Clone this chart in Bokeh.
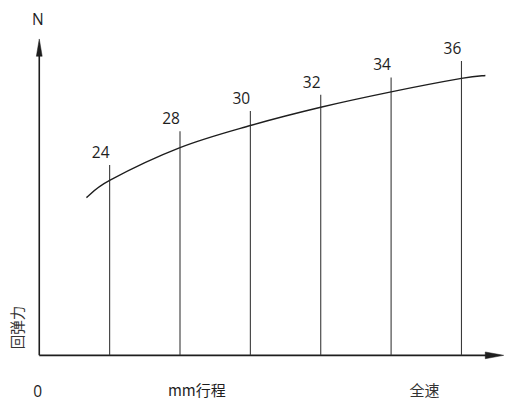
from bokeh.plotting import figure
from bokeh.models import Range1d
from bokeh.core.properties import value
from bokeh.embed import file_html
from bokeh.resources import INLINE

# ---- data ----
positions = [1, 2, 3, 4, 5, 6]                 # stroke stations along the travel axis
station_labels = ["24", "28", "30", "32", "34", "36"]
station_heights = [198, 233, 254, 271, 289, 306]   # height of each vertical marker

curve_x = [0.67, 1, 2, 3, 4, 5, 6, 6.34]        # spring-back force curve
curve_y = [164, 182, 216, 239, 258, 274, 288, 291]

y_axis_top = 312
x_axis_end = 6.60

# ---- layout ----
W, H = 504, 401
REF_W, REF_H = 520, 417
UX = 72.6                        # reference pixels per x unit
X_ORIGIN, Y_ORIGIN = 40, 369     # reference pixel position of the origin

p = figure(width=W, height=H, output_backend="svg", toolbar_location=None,
           x_range=Range1d(-X_ORIGIN / UX, (REF_W - X_ORIGIN) / UX),
           y_range=Range1d(Y_ORIGIN - REF_H, Y_ORIGIN),
           x_axis_location=None, y_axis_location=None, min_border=0,
           background_fill_color="white", border_fill_color="white")
p.outline_line_color = None
p.xgrid.visible = False
p.ygrid.visible = False

ink = "#1e1e1e"

# axes
p.line([0, 0], [0, y_axis_top], line_color=ink, line_width=1.6)
p.line([0, x_axis_end - 12 / UX], [0, 0], line_color=ink, line_width=1.6)
p.patch([-3 / UX, 0, 3 / UX], [y_axis_top - 1, y_axis_top + 17, y_axis_top - 1],
        fill_color=ink, line_color=ink, line_width=0.5)
p.patch([x_axis_end - 19 / UX, x_axis_end, x_axis_end - 19 / UX], [-3.5, 0, 3.5],
        fill_color=ink, line_color=ink, line_width=0.5)

# vertical station markers
p.segment(x0=positions, y0=[0] * len(positions), x1=positions, y1=station_heights,
          line_color="#3a3a3a", line_width=1.1)

# smooth curve through the read points (Catmull-Rom drawn as cubic Beziers)
n = len(curve_x)
bx0, by0, bx1, by1, cx0, cy0, cx1, cy1 = [], [], [], [], [], [], [], []
for i in range(n - 1):
    xa, ya = curve_x[i], curve_y[i]
    xb, yb = curve_x[i + 1], curve_y[i + 1]
    xp, yp = (curve_x[i - 1], curve_y[i - 1]) if i > 0 else (xa, ya)
    xn, yn = (curve_x[i + 2], curve_y[i + 2]) if i + 2 < n else (xb, yb)
    bx0.append(xa); by0.append(ya); bx1.append(xb); by1.append(yb)
    cx0.append(xa + (xb - xp) / 6); cy0.append(ya + (yb - yp) / 6)
    cx1.append(xb - (xn - xa) / 6); cy1.append(yb - (yn - ya) / 6)
p.bezier(x0=bx0, y0=by0, x1=bx1, y1=by1, cx0=cx0, cy0=cy0, cx1=cx1, cy1=cy1,
         line_color=ink, line_width=1.4)

fs = "15.5px"
# station labels
p.text(x=positions, y=station_heights, text=station_labels, x_offset=-9, y_offset=-13,
       text_align="center", text_baseline="alphabetic", text_font=value("Open Sans"),
       text_font_size=fs, text_color=ink)

# axis texts
p.text(x=[0], y=[349.5], text=["N"], x_offset=-1.5, text_align="center", text_baseline="middle",
       text_font=value("Open Sans"), text_font_size=fs, text_color=ink)
p.text(x=[0], y=[-37.5], text=["0"], x_offset=-1.5, text_align="center", text_baseline="alphabetic",
       text_font=value("Open Sans"), text_font_size=fs, text_color=ink)
p.text(x=[(202.5 - X_ORIGIN) / UX], y=[-35.5], text=["mm行程"], text_align="center",
       text_baseline="alphabetic", text_font=value("Noto Sans CJK SC"), text_font_size="15px",
       text_color=ink)
p.text(x=[(437.5 - X_ORIGIN) / UX], y=[-35.5], text=["全速"], text_align="center",
       text_baseline="alphabetic", text_font=value("Noto Sans CJK SC"), text_font_size="15px",
       text_color="#333333")
p.text(x=[(16 - X_ORIGIN) / UX], y=[Y_ORIGIN - 340], text=["回弹力"], angle=1.5708,
       text_align="center", text_baseline="middle", text_font=value("Noto Sans CJK SC"),
       text_font_size="14.5px", text_color="#333333")

open("out.html", "w").write(file_html(p, INLINE))
